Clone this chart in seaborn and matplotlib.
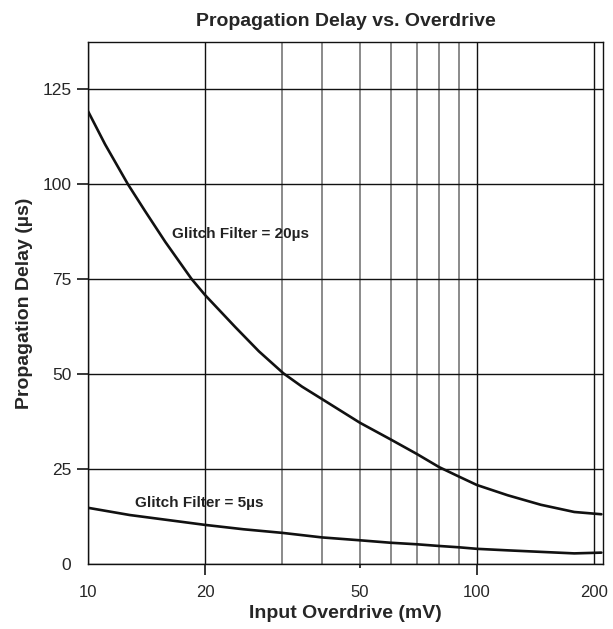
"""Propagation Delay vs. Overdrive chart."""

import matplotlib

matplotlib.use("Agg")
import matplotlib.pyplot as plt
import pandas as pd
import seaborn as sns

# Glitch filter = 20us curve
overdrive_20us = [10, 11.06, 12.66, 14, 15.8, 18.44, 20, 23.9, 27.5, 31.8, 35.5,
                  40, 50, 60, 70, 80, 90, 100, 120, 146, 178, 209]
delay_20us = [119.2, 110.5, 100, 93.0, 84.8, 75.1, 70.8, 62.4, 56.0, 50.2, 46.7,
              43.4, 37.2, 32.8, 29.0, 25.5, 23.0, 20.8, 18.1, 15.6, 13.7, 13.1]

# Glitch filter = 5us curve
overdrive_5us = [10, 12.8, 20, 25.1, 31.6, 40, 50, 60, 70, 80,
                 90, 100, 120, 146, 178, 209]
delay_5us = [14.8, 12.9, 10.3, 9.15, 8.2, 7.0, 6.25, 5.6, 5.2, 4.75,
             4.4, 4.0, 3.6, 3.2, 2.8, 3.0]

x_ticks = [10, 20, 50, 100, 200]
x_tick_labels = ["10", "20", "50", "100", "200"]
x_minor_grid = [31.6, 40, 60, 70, 80, 90]
y_ticks = [0, 25, 50, 75, 100, 125]

df = pd.concat([
    pd.DataFrame({"overdrive": overdrive_20us, "delay": delay_20us, "filter": "20us"}),
    pd.DataFrame({"overdrive": overdrive_5us, "delay": delay_5us, "filter": "5us"}),
])

sns.set_style("white", {"xtick.bottom": True, "ytick.left": True})
plt.rcParams["font.family"] = ["Liberation Sans", "DejaVu Sans"]

fig = plt.figure(figsize=(6.13, 6.29), dpi=100)
ax = fig.add_axes([0.1436, 0.1033, 0.8401, 0.8304])

sns.lineplot(data=df, x="overdrive", y="delay", units="filter", estimator=None,
             sort=False, color="#111111", linewidth=1.9, ax=ax, zorder=3)

ax.set_xscale("log")
ax.set_xlim(10, 211)
ax.set_ylim(0, 137.5)

ax.set_xticks(x_ticks)
ax.set_xticklabels(x_tick_labels)
ax.set_xticks(x_minor_grid, minor=True)
ax.xaxis.set_minor_formatter(matplotlib.ticker.NullFormatter())
ax.set_yticks(y_ticks)

ax.tick_params(axis="x", which="major", bottom=True, direction="out", length=8,
               width=1.1, color="black", pad=7, labelsize=12)
ax.tick_params(axis="x", which="minor", bottom=False, length=0)
ax.tick_params(axis="y", left=True, direction="out", length=8, width=1.1,
               color="black", pad=4, labelsize=12.5)

# grid: dark on majors, gray on minors (50 looks like a minor)
ax.grid(True, which="major", color="#111111", linewidth=1.0)
ax.grid(True, which="minor", axis="x", color="#777777", linewidth=1.2)
ax.set_axisbelow(True)

for sp in ax.spines.values():
    sp.set_color("#111111")
    sp.set_linewidth(1.0)

ax.set_xlabel("Input Overdrive (mV)", fontsize=14, fontweight="bold", labelpad=4)
ax.set_ylabel("Propagation Delay (µs)", fontsize=14, fontweight="bold", labelpad=7)
ax.set_title("Propagation Delay vs. Overdrive", fontsize=14, fontweight="bold", pad=11)

ax.text(16.4, 86.8, "Glitch Filter = 20µs", fontsize=11, fontweight="bold",
        va="center", ha="left", color="#222222")
ax.text(13.2, 16.1, "Glitch Filter = 5µs", fontsize=11, fontweight="bold",
        va="center", ha="left", color="#222222")

# draw once so every tick exists, then tweak single ticks
fig.canvas.draw()
for tk in ax.xaxis.get_major_ticks():
    val = tk.get_loc()
    if val == 50:
        tk.gridline.set_color("#777777")
        tk.gridline.set_linewidth(1.2)
        tk.tick1line.set_markersize(3)
    if val in (10, 200):
        tk.tick1line.set_markersize(0)
for tk in ax.yaxis.get_major_ticks():
    if tk.get_loc() == 0:
        tk.tick1line.set_markersize(0)

fig.savefig("out.png", dpi=100)
